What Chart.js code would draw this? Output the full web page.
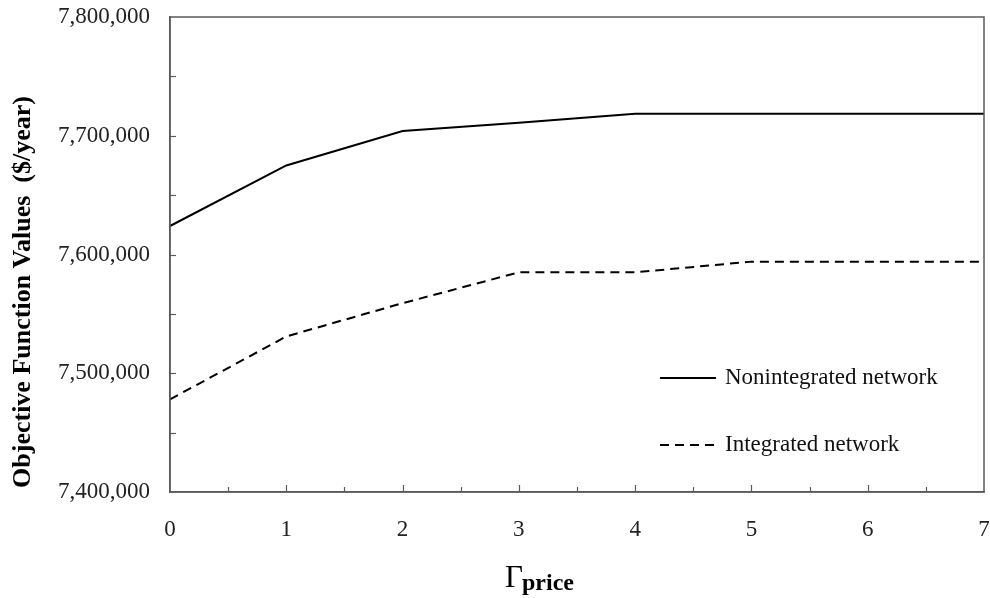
<!DOCTYPE html>
<html lang="en">
<head>
    <meta charset="UTF-8">
    <title>Objective Function Values vs Gamma price</title>
    <script src="https://cdn.jsdelivr.net/npm/chart.js"></script>
    <style>
        body { margin: 0; background: #fff; }
    </style>
</head>
<body>
    <canvas id="chart" width="990" height="598"></canvas>

    <script>
        // data
        const gammaPrice = [0, 1, 2, 3, 4, 5, 6, 7];
        const nonintegrated = [7624000, 7675000, 7704000, 7711000, 7718500, 7718500, 7718500, 7718500];
        const integrated = [7478000, 7531000, 7559000, 7585000, 7585000, 7594000, 7594000, 7594000];
        const seriesNames = ['Nonintegrated network', 'Integrated network'];
        const yTitle = 'Objective Function Values  ($/year)';

        const serif = '"Liberation Serif", "Times New Roman", serif';

        function points(ys) {
            return gammaPrice.map((x, i) => ({ x: x, y: ys[i] }));
        }

        // labels should not push the plot area inwards
        function noOverhang(s) {
            s.paddingTop = 0;
            s.paddingBottom = 0;
            s.paddingLeft = 0;
            s.paddingRight = 0;
        }

        // frame, inward tick marks, legend and axis titles
        const decorations = {
            id: 'decorations',
            afterDatasetsDraw(chart) {
                const ctx = chart.ctx;
                const a = chart.chartArea;
                const xs = chart.scales.x;
                const ys = chart.scales.y;
                ctx.save();

                // box around the plot
                ctx.strokeStyle = '#5a5a5a';
                ctx.lineWidth = 1.5;
                ctx.strokeRect(a.left, a.top, a.right - a.left, a.bottom - a.top);

                // x ticks pointing up
                ctx.lineWidth = 1.2;
                for (let v = 0.5; v < 7; v += 0.5) {
                    const px = Math.round(xs.getPixelForValue(v)) + 0.5;
                    const len = Number.isInteger(v) ? 7 : 5;
                    ctx.beginPath();
                    ctx.moveTo(px, a.bottom);
                    ctx.lineTo(px, a.bottom - len);
                    ctx.stroke();
                }
                // y ticks pointing right
                for (let v = 7450000; v < 7800000; v += 50000) {
                    const py = Math.round(ys.getPixelForValue(v)) + 0.5;
                    ctx.beginPath();
                    ctx.moveTo(a.left, py);
                    ctx.lineTo(a.left + 6, py);
                    ctx.stroke();
                }

                // legend inside the plot
                const legendY = [378, 445];
                chart.data.datasets.forEach((ds, i) => {
                    const y = legendY[i];
                    ctx.strokeStyle = ds.borderColor;
                    ctx.lineWidth = ds.borderWidth;
                    ctx.setLineDash(ds.borderDash || []);
                    ctx.beginPath();
                    ctx.moveTo(660, y);
                    ctx.lineTo(716, y);
                    ctx.stroke();
                    ctx.setLineDash([]);
                    ctx.fillStyle = '#111';
                    ctx.font = '23px ' + serif;
                    ctx.textBaseline = 'middle';
                    ctx.textAlign = 'left';
                    ctx.fillText(ds.label, 725, y);
                });

                // y title, rotated
                ctx.fillStyle = '#000';
                ctx.font = 'bold 26px ' + serif;
                ctx.textAlign = 'center';
                ctx.textBaseline = 'middle';
                ctx.translate(23, 292);
                ctx.rotate(-Math.PI / 2);
                ctx.fillText(yTitle, 0, 0);
                ctx.setTransform(1, 0, 0, 1, 0, 0);

                // x title: Gamma with "price" subscript
                ctx.textAlign = 'left';
                ctx.textBaseline = 'alphabetic';
                ctx.font = '31px ' + serif;
                ctx.fillText('\u0393', 505, 587);
                ctx.font = 'bold 24px ' + serif;
                ctx.fillText('price', 522, 590);

                ctx.restore();
            }
        };

        new Chart(document.getElementById('chart'), {
            type: 'line',
            data: {
                datasets: [{
                    label: seriesNames[0],
                    data: points(nonintegrated),
                    borderColor: '#000',
                    borderWidth: 2,
                    pointRadius: 0,
                    tension: 0,
                    fill: false
                }, {
                    label: seriesNames[1],
                    data: points(integrated),
                    borderColor: '#000',
                    borderWidth: 2,
                    borderDash: [9, 6],
                    pointRadius: 0,
                    tension: 0,
                    fill: false
                }]
            },
            options: {
                responsive: false,
                animation: false,
                layout: { padding: { top: 17, right: 6, left: 0, bottom: 0 } },
                plugins: {
                    legend: { display: false },
                    tooltip: { enabled: false }
                },
                scales: {
                    x: {
                        type: 'linear',
                        min: 0,
                        max: 7,
                        grid: { drawOnChartArea: false, drawTicks: false },
                        border: { color: '#5a5a5a', width: 1.5 },
                        ticks: {
                            stepSize: 0.5,
                            autoSkip: false,
                            maxRotation: 0,
                            padding: 24,
                            color: '#222',
                            font: { family: serif, size: 23 },
                            callback: v => Number.isInteger(v) ? String(v) : ''
                        },
                        afterFit: s => { s.height = 106; noOverhang(s); }
                    },
                    y: {
                        min: 7400000,
                        max: 7800000,
                        grid: { drawOnChartArea: false, drawTicks: false },
                        border: { color: '#5a5a5a', width: 1.5 },
                        ticks: {
                            stepSize: 50000,
                            autoSkip: false,
                            padding: 20,
                            color: '#222',
                            font: { family: serif, size: 23 },
                            callback: v => v % 100000 === 0 ? v.toLocaleString('en-US') : ''
                        },
                        afterFit: s => { s.width = 170; noOverhang(s); }
                    }
                }
            },
            plugins: [decorations]
        });
    </script>
</body>
</html>
